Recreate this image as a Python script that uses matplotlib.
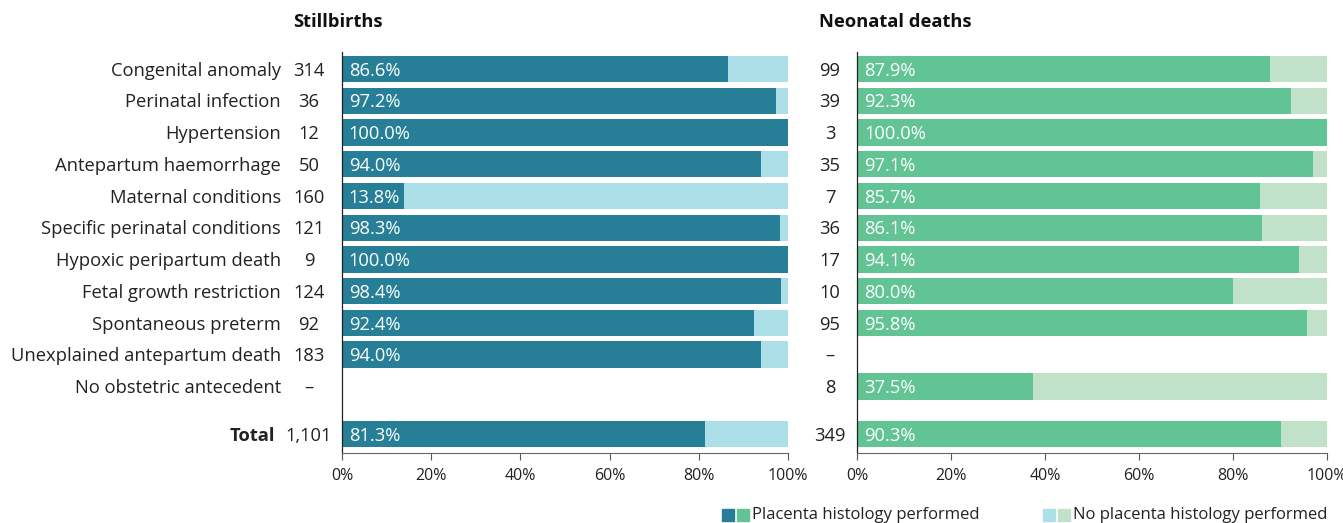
import numpy as np
import matplotlib.pyplot as plt
from matplotlib.patches import Rectangle

plt.rcParams['font.family'] = ['Open Sans', 'DejaVu Sans']

causes = ['Congenital anomaly', 'Perinatal infection', 'Hypertension',
          'Antepartum haemorrhage', 'Maternal conditions',
          'Specific perinatal conditions', 'Hypoxic peripartum death',
          'Fetal growth restriction', 'Spontaneous preterm',
          'Unexplained antepartum death', 'No obstetric antecedent']

sb_n = [314, 36, 12, 50, 160, 121, 9, 124, 92, 183, None]
sb_pct = [86.6, 97.2, 100.0, 94.0, 13.8, 98.3, 100.0, 98.4, 92.4, 94.0, None]
sb_total_n = 1101
sb_total_pct = 81.3

nn_n = [99, 39, 3, 35, 7, 36, 17, 10, 95, None, 8]
nn_pct = [87.9, 92.3, 100.0, 97.1, 85.7, 86.1, 94.1, 80.0, 95.8, None, 37.5]
nn_total_n = 349
nn_total_pct = 90.3

xticks = [0, 20, 40, 60, 80, 100]

W, H = 1343, 523
FS = 13.2
fig = plt.figure(figsize=(W / 100, H / 100), dpi=100)

def px(x, y):
    return x / W, 1 - y / H

def panel(left, right, n, pct, tot_n, tot_pct, dark, light, count_x, title, title_x):
    ax = fig.add_axes([left / W, 1 - 453 / H, (right - left) / W, (453 - 52) / H])
    ypos = list(range(len(n))) + [11.5]
    vals = pct + [tot_pct]
    counts = n + [tot_n]
    for y, v, c in zip(ypos, vals, counts):
        if v is not None:
            ax.barh(y, 100, height=0.83, color=light)
            ax.barh(y, v, height=0.83, color=dark)
            ax.text(1.5, y + 0.05, f'{v:.1f}%', color='white', fontsize=FS,
                    va='center', ha='left')
        lab = '–' if c is None else f'{c:,}'
        ax.text((count_x - left) / (right - left), y + 0.05, lab,
                transform=ax.get_yaxis_transform(),
                ha='center', va='center', fontsize=FS, color='#222222')
    ax.set_xlim(0, 100)
    ax.set_ylim(12.1, -0.54)
    ax.set_yticks([])
    ax.set_xticks(xticks)
    ax.set_xticklabels([f'{t}%' for t in xticks], fontsize=11.5, color='#222222')
    ax.tick_params(axis='x', length=5, color='#555555', pad=6)
    for s in ['top', 'right']:
        ax.spines[s].set_visible(False)
    ax.spines['left'].set_color('#222222')
    ax.spines['left'].set_linewidth(0.9)
    ax.spines['bottom'].set_color('#666666')
    fig.text(*px(title_x, 22), title, fontsize=FS, fontweight='bold',
             ha='left', va='center', color='#111111')
    return ax, ypos

axl, ypos = panel(342, 788, sb_n, sb_pct, sb_total_n, sb_total_pct,
                  '#267f96', '#addfe9', 309, 'Stillbirths', 293)
axr, _ = panel(857, 1327, nn_n, nn_pct, nn_total_n, nn_total_pct,
               '#62c394', '#c1e1c9', 830, 'Neonatal deaths', 819)

for y, c in zip(ypos, causes + ['Total']):
    bold = c == 'Total'
    xr = 275 if bold else 281
    axl.text((xr - 342) / (788 - 342), y + 0.05, c,
             transform=axl.get_yaxis_transform(), ha='right', va='center',
             fontsize=FS, color='#222222',
             fontweight='bold' if bold else 'normal')

# legend
for x0, col in [(722, '#267f96'), (737, '#62c394'), (1043, '#addfe9'), (1058, '#c1e1c9')]:
    fig.patches.append(Rectangle(px(x0, 521), 12 / W, 12 / H, color=col,
                                 transform=fig.transFigure))
fig.text(*px(752, 515), 'Placenta histology performed', fontsize=12,
         ha='left', va='center', color='#222222')
fig.text(*px(1073, 515), 'No placenta histology performed', fontsize=12,
         ha='left', va='center', color='#222222')

fig.savefig('out.png', dpi=100)
